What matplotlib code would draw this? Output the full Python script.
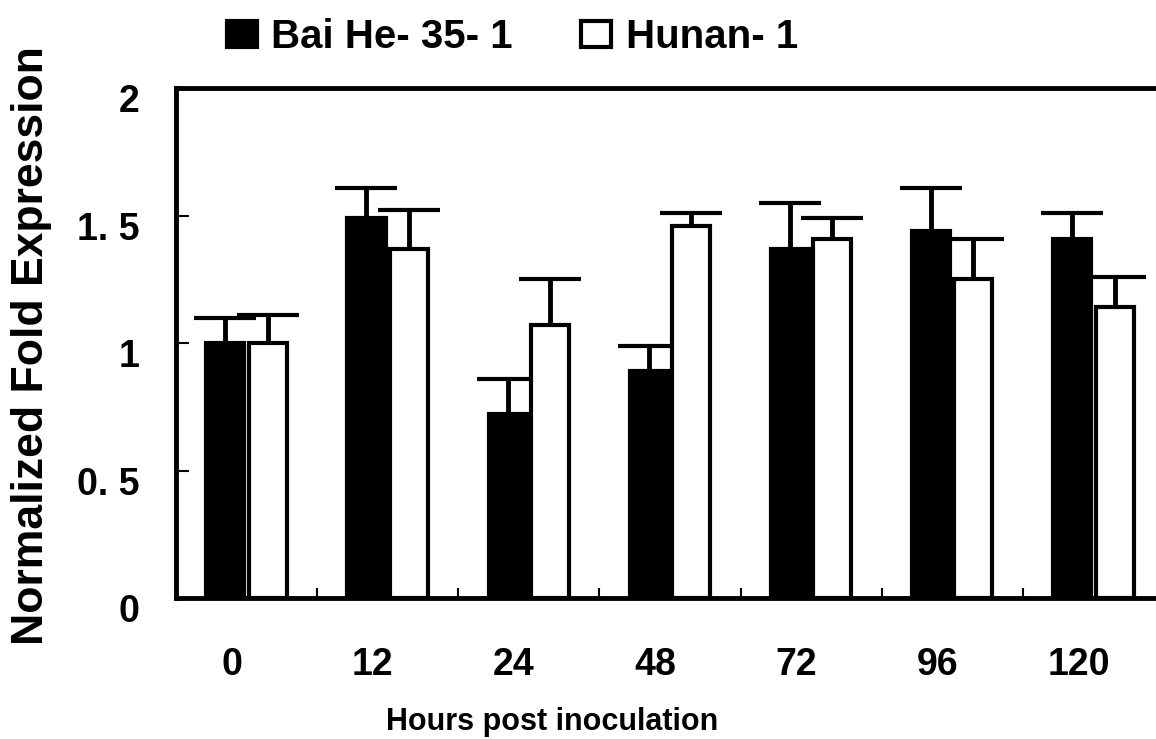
import numpy as np
import matplotlib
matplotlib.use('Agg')
import matplotlib.pyplot as plt
import matplotlib.font_manager as fm
from matplotlib.transforms import ScaledTranslation

# data
hours = ['0', '12', '24', '48', '72', '96', '120']
baihe = [1.00, 1.49, 0.72, 0.89, 1.37, 1.44, 1.41]
baihe_err = [0.10, 0.12, 0.14, 0.10, 0.18, 0.17, 0.10]
hunan = [1.00, 1.37, 1.07, 1.46, 1.41, 1.25, 1.14]
hunan_err = [0.11, 0.15, 0.18, 0.05, 0.08, 0.16, 0.12]
yticks = [0, 0.5, 1, 1.5, 2]
ytick_labels = ['0', '0. 5', '1', '1. 5', '2']
series_names = ['Bai He- 35- 1', 'Hunan- 1']

names = {f.name for f in fm.fontManager.ttflist}
narrow = 'Liberation Sans Narrow' if 'Liberation Sans Narrow' in names else 'Liberation Sans'
plt.rcParams['font.family'] = ['Liberation Sans', 'DejaVu Sans']

fig = plt.figure(figsize=(11.56, 7.39), dpi=100)
ax = fig.add_axes([0.1522, 0.1908, 0.8547, 0.690])

x = np.arange(len(hours))
w = 0.27
off = 0.15
b1 = ax.bar(x - off, baihe, w, color='black', edgecolor='black', linewidth=3,
            label=series_names[0], zorder=2)
b2 = ax.bar(x + off, hunan, w, color='white', edgecolor='black', linewidth=3,
            label=series_names[1], zorder=2)
for xs, v, e in [(x - off, baihe, baihe_err), (x + off, hunan, hunan_err)]:
    _, caps, _ = ax.errorbar(xs, v, yerr=[np.zeros(len(e)), e], fmt='none',
                             ecolor='black', elinewidth=3.5, capsize=22,
                             capthick=3, zorder=1)
    caps[0].set_visible(False)  # only the upper cap

ax.set_xlim(-0.5, len(hours) - 0.5)
ax.set_ylim(0, 2)
for s in ax.spines.values():
    s.set_linewidth(3.5)

ax.set_xticks(x)
ax.set_xticklabels(hours, fontsize=27, fontweight='bold')
ax.set_xticks(x[:-1] + 0.5, minor=True)
ax.tick_params(axis='x', which='major', length=0, pad=35)
ax.tick_params(axis='x', which='minor', direction='in', length=7, width=1.5)
ax.set_yticks(yticks)
ax.set_yticklabels(ytick_labels, fontsize=27, fontweight='bold')
ax.tick_params(axis='y', direction='in', length=9, width=1.5, pad=26)

dx = ScaledTranslation(-0.15, 0, fig.dpi_scale_trans)
for lab in ax.get_xticklabels():
    lab.set_transform(lab.get_transform() + dx)
dy = ScaledTranslation(0, -0.10, fig.dpi_scale_trans)
for lab in ax.get_yticklabels():
    lab.set_transform(lab.get_transform() + dy)

ysize = 35 if narrow != 'Liberation Sans' else 32
ax.set_ylabel('Normalized Fold Expression', fontsize=ysize, fontweight='bold',
              family=narrow)
ax.yaxis.label.set_verticalalignment('center')
ax.yaxis.set_label_coords(-0.1457, 0.496)
ax.set_xlabel('Hours post inoculation', fontsize=22, fontweight='bold')
ax.xaxis.label.set_verticalalignment('center')
ax.xaxis.set_label_coords(0.3806, -0.243)

fig.legend(handles=[b1, b2], loc='center left', bbox_to_anchor=(227 / 1156, 1 - 37 / 739),
           ncol=2, frameon=False, borderpad=0, borderaxespad=0,
           handlelength=0.74, handleheight=0.62, handletextpad=0.36,
           columnspacing=1.7, prop={'family': narrow, 'weight': 'bold', 'size': 29})

fig.savefig('out.png', dpi=100)
